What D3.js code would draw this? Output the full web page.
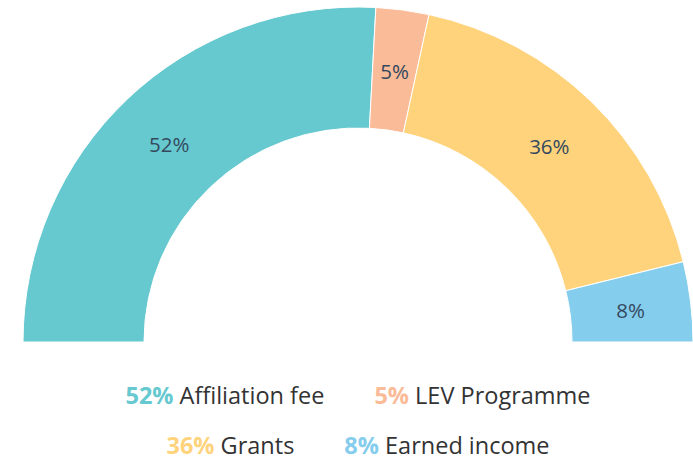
<!DOCTYPE html>
<html>
<head>
<meta charset="utf-8">
<script src="https://cdn.jsdelivr.net/npm/d3@7"></script>
<style>
  body { margin: 0; background: #fff; }
  svg { display: block; font-family: "Open Sans", sans-serif; }
</style>
</head>
<body>
<div id="chart"></div>
<script>
// income sources, share in % (labels show the rounded value)
const categories = ["Affiliation fee", "LEV Programme", "Grants", "Earned income"];
const values = [51.7, 5.1, 35.5, 7.7];
const labels = ["52%", "5%", "36%", "8%"];
const colors = ["#67c9d0", "#fabb98", "#fed37b", "#85cdec"];

function main() {
    let width = 693;
    let height = 461;
    let cx = 358, cy = 342;
    let outerR = 335, innerR = 214;

    let svg = d3.select("#chart").append("svg")
        .attr("width", width)
        .attr("height", height);

    let g = svg.append("g")
        .attr("transform", "translate(" + cx + "," + cy + ")");

    let pie = d3.pie()
        .sort(null)
        .startAngle(-Math.PI / 2)
        .endAngle(Math.PI / 2);

    let arc = d3.arc()
        .innerRadius(innerR)
        .outerRadius(outerR);

    let arcs = pie(values);

    g.selectAll("path")
        .data(arcs)
        .enter()
        .append("path")
        .attr("d", arc)
        .attr("fill", (d, i) => colors[i])
        .attr("stroke", "#fff")
        .attr("stroke-width", 1);

    g.selectAll("text.lbl")
        .data(arcs)
        .enter()
        .append("text")
        .attr("class", "lbl")
        .attr("transform", d => "translate(" + arc.centroid(d) + ")")
        .attr("text-anchor", "middle")
        .attr("dy", "0.45em")
        .attr("font-size", 20.5)
        .attr("fill", "#34495e")
        .text((d, i) => labels[i]);

    // legend, two centred rows
    let rows = [[0, 1], [2, 3]];
    let rowY = [396, 446];
    let gap = 50;
    rows.forEach(function(row, r) {
        let rowG = svg.append("g");
        let x = 0;
        row.forEach(function(i) {
            let t = rowG.append("text")
                .attr("x", x)
                .attr("y", rowY[r])
                .attr("dy", "0.35em")
                .attr("font-size", 23.5);
            t.append("tspan")
                .attr("font-weight", "bold")
                .attr("fill", colors[i])
                .text(labels[i]);
            t.append("tspan")
                .attr("fill", "#333")
                .text(" " + categories[i]);
            x += t.node().getComputedTextLength() + gap;
        });
        let w = x - gap;
        rowG.attr("transform", "translate(" + (cx - w / 2) + ",0)");
    });
}

main();
</script>
</body>
</html>
